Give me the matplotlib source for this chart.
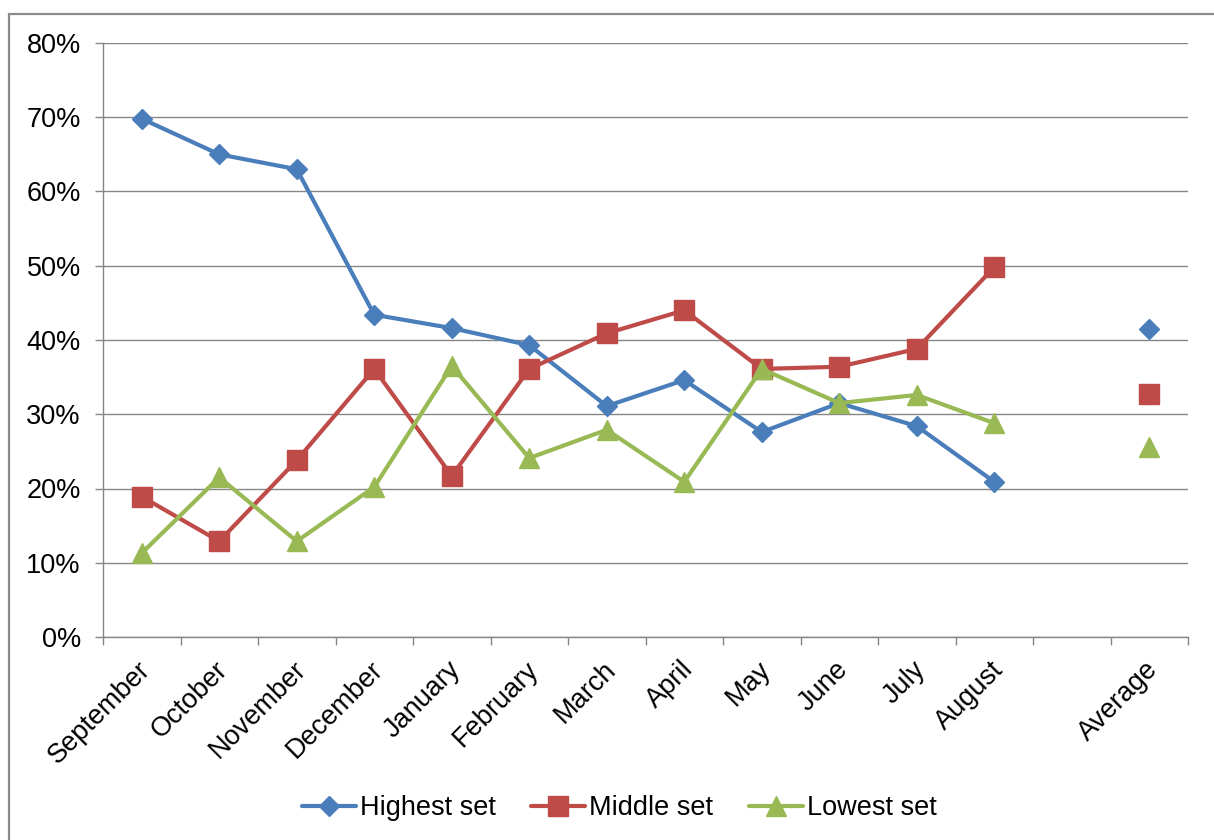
import numpy as np
import matplotlib.pyplot as plt
from matplotlib.patches import Rectangle
from matplotlib.transforms import ScaledTranslation

plt.rcParams['font.family'] = ['Liberation Sans', 'DejaVu Sans']

# Categories: twelve months, a blank slot, then the yearly average
months = ['September', 'October', 'November', 'December', 'January', 'February',
          'March', 'April', 'May', 'June', 'July', 'August']
categories = months + ['', 'Average']

# Percentages per month
highest_set = [69.8, 65.0, 63.0, 43.4, 41.6, 39.3, 31.1, 34.6, 27.6, 31.5, 28.4, 20.9]
middle_set = [18.9, 12.9, 23.8, 36.1, 21.7, 36.1, 40.9, 44.0, 36.1, 36.4, 38.8, 49.8]
lowest_set = [11.3, 21.5, 12.9, 20.2, 36.5, 24.1, 27.9, 20.9, 36.1, 31.5, 32.6, 28.8]

# Averages
highest_avg = 41.5
middle_avg = 32.7
lowest_avg = 25.6

series = [
    ('Highest set', highest_set, highest_avg, '#4A7EBB', 'D', 10),
    ('Middle set', middle_set, middle_avg, '#BE4B48', 's', 14),
    ('Lowest set', lowest_set, lowest_avg, '#98B954', '^', 14),
]

fig = plt.figure(figsize=(12.14, 8.40), dpi=100)
ax = fig.add_axes([103 / 1214, 1 - 637 / 840, (1188 - 103) / 1214, (637 - 43) / 840])

x_months = np.arange(len(months))
x_avg = len(categories) - 1

for name, vals, avg, color, marker, ms in series:
    ax.plot(x_months, np.array(vals) / 100, color=color, lw=3, marker=marker,
            ms=ms, mec=color, mfc=color, label=name, solid_capstyle='round',
            solid_joinstyle='round', zorder=3)
    ax.plot([x_avg], [avg / 100], linestyle='none', marker=marker, ms=ms,
            mec=color, mfc=color, zorder=3)

ax.set_xlim(-0.5, len(categories) - 0.5)
ax.set_ylim(0, 0.8)
ax.set_yticks(np.arange(0, 0.81, 0.1))
ax.set_yticklabels(['%d%%' % round(v * 100) for v in np.arange(0, 0.81, 0.1)])
ax.grid(axis='y', color='#868686', lw=1)
ax.set_axisbelow(True)

ax.set_xticks(np.arange(len(categories)))
ax.set_xticklabels(categories, rotation=45, ha='right', rotation_mode='anchor')
ax.set_xticks(np.arange(len(categories) + 1) - 0.5, minor=True)
ax.tick_params(axis='x', which='major', length=0, pad=14, labelsize=19.5)
ax.tick_params(axis='x', which='minor', length=6, color='#868686', width=1)
ax.tick_params(axis='y', length=6, color='#868686', width=1, pad=10, labelsize=19.5)

# nudge the slanted month labels a little to the left
shift = ScaledTranslation(-4 / 100, 0, fig.dpi_scale_trans)
for lbl in ax.get_xticklabels():
    lbl.set_transform(lbl.get_transform() + shift)

for side in ['top', 'right']:
    ax.spines[side].set_visible(False)
for side in ['left', 'bottom']:
    ax.spines[side].set_color('#868686')
    ax.spines[side].set_linewidth(1)

fig.legend(loc='center', bbox_to_anchor=(0.51, 1 - 808 / 840), ncol=3, frameon=False,
           fontsize=19.5, handlelength=2.0, handletextpad=0.15, columnspacing=1.3)

# outer chart border
fig.patches.append(Rectangle((9 / 1214, -0.1), 1.2, 1.1 - 14 / 840,
                             transform=fig.transFigure, fill=False,
                             edgecolor='#8c8c8c', lw=1.6))

fig.savefig('out.png', dpi=100)
